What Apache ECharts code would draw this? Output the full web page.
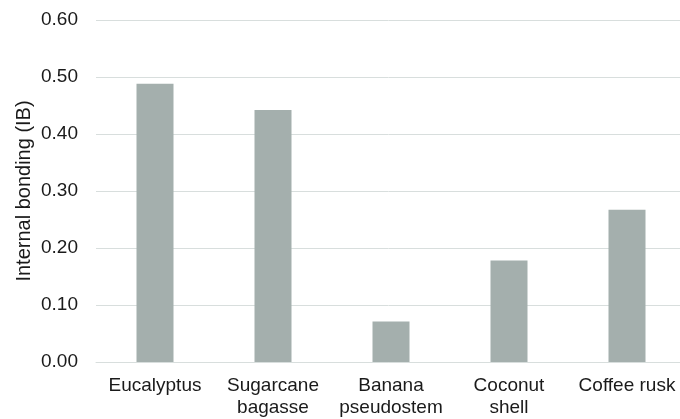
<!DOCTYPE html>
<html>
<head>
<meta charset="utf-8">
<script src="https://cdn.jsdelivr.net/npm/echarts@6/dist/echarts.min.js"></script>
<style>
  html, body { margin: 0; padding: 0; background: #fff; }
  #chart { width: 680px; height: 419px; }
</style>
</head>
<body>
<div id="chart"></div>
<script>
// Internal bonding (IB) by raw material
const categories = ['Eucalyptus', 'Sugarcane\nbagasse', 'Banana\npseudostem', 'Coconut\nshell', 'Coffee rusk'];
const ibValues = [0.488, 0.442, 0.071, 0.178, 0.267];
const yTicks = { min: 0, max: 0.6, interval: 0.1 };

const chart = echarts.init(document.getElementById('chart'), null, { renderer: 'canvas' });
const textColor = '#1a1a1a';
const gridColor = '#d8dedd';

chart.setOption({
  animation: false,
  textStyle: { fontFamily: 'Liberation Sans, Arial, sans-serif' },
  // the plot area runs slightly past the right edge of the canvas
  grid: { left: 96, top: 20, width: 590, height: 342, containLabel: false, outerBoundsMode: 'none' },
  xAxis: {
    type: 'category',
    data: categories,
    axisLine: { show: true, lineStyle: { color: gridColor, width: 1 } },
    axisTick: { show: false },
    axisLabel: { color: textColor, fontSize: 19, margin: 13, lineHeight: 22, interval: 0 }
  },
  yAxis: {
    type: 'value',
    min: yTicks.min,
    max: yTicks.max,
    interval: yTicks.interval,
    name: 'Internal bonding (IB)',
    nameLocation: 'middle',
    nameGap: 62,
    nameMoveOverlap: false,
    nameTextStyle: { color: textColor, fontSize: 20 },
    axisLine: { show: false },
    axisTick: { show: false },
    axisLabel: {
      color: textColor, fontSize: 19, margin: 18,
      formatter: v => v.toFixed(2)
    },
    splitLine: { lineStyle: { color: gridColor, width: 1 } }
  },
  series: [{
    type: 'bar',
    data: ibValues,
    barWidth: 37,
    itemStyle: { color: '#a4afad' }
  }]
});
</script>
</body>
</html>
